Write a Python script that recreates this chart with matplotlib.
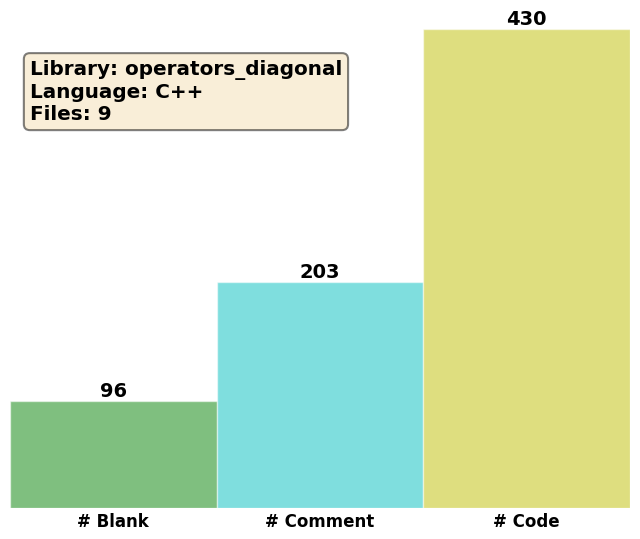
import matplotlib
matplotlib.use("Agg")
import matplotlib.pyplot as plt

categories = ["# Blank", "# Comment", "# Code"]
counts = [96, 203, 430]
colors = ["green", "c", "y"]

library = "operators_diagonal"
language = "C++"
files = 9

fig = plt.figure(figsize=(6.4, 5.39), dpi=100)
ax = fig.add_axes([10 / 640, 1 - 508 / 539, 620 / 640, 479 / 539])

bars = ax.bar(range(len(counts)), counts, width=1.0, color=colors, alpha=0.5,
              edgecolor="white", linewidth=1)
for b, v in zip(bars, counts):
    ax.text(b.get_x() + b.get_width() / 2, v, str(v), ha="center", va="bottom",
            fontsize=14, fontweight="bold", clip_on=False)

ax.set_xlim(-0.5, 2.5)
ax.set_ylim(0, 430)
ax.set_xticks(range(len(categories)))
ax.set_xticklabels(categories, fontsize=12, fontweight="bold")
ax.tick_params(axis="x", length=0)
ax.set_yticks([])
for s in ax.spines.values():
    s.set_visible(False)

info = "Library: %s\nLanguage: %s\nFiles: %d" % (library, language, files)
ax.text(0.032, 0.935, info, transform=ax.transAxes, fontsize="x-large", fontweight="bold",
        va="top", ha="left",
        bbox=dict(boxstyle="round", facecolor="wheat", alpha=0.5, linewidth=1.5))

fig.savefig("out.png", dpi=100)
